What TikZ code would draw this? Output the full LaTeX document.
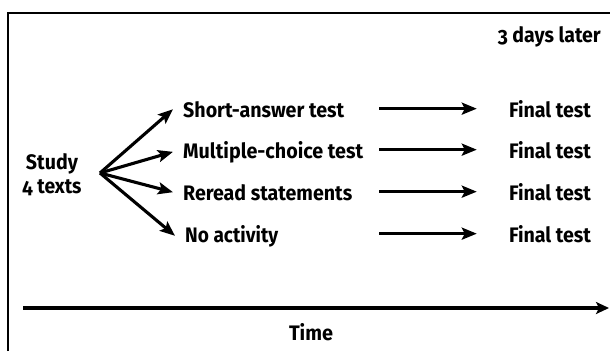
\documentclass[tikz,border=0pt]{standalone}
\usepackage{fontspec}
\setmainfont{Fira Sans}[Numbers=OldStyle]
\usetikzlibrary{arrows.meta,calc}
\newcommand{\fitw}[2]{\resizebox{#1pt}{\height}{#2}}
\begin{document}
\begin{tikzpicture}[x=1pt,y=-1pt,
  lbl/.style={font=\fontsize{21}{24}\selectfont\bfseries, inner sep=0pt},
  rowlbl/.style={lbl, anchor=base west, inner xsep=10pt, inner ysep=0pt},
  ftlbl/.style={lbl, anchor=base, inner xsep=32pt, inner ysep=0pt},
  arr/.style={line width=3.1pt, -{Stealth[length=15pt,width=12pt,inset=3pt]}},
  frame/.style={line width=1.8pt}]
\useasboundingbox (0,0) rectangle (610,351);
% frame (top and left edges)
\draw[frame] (8,351) -- (8,13) -- (610,13);
% header
\node[lbl, anchor=base east] (later) at (601,42) {\fitw{103}{3 days later}};
% study
\node[lbl, align=center, anchor=base] (study) at (52,193) {\fitw{52}{Study}\\\fitw{59}{4 texts}};
\coordinate (o) at (100,173);
% activities
\node[rowlbl] (r1) at (173,117) {\fitw{161}{Short-answer test}};
\node[rowlbl] (r2) at (173,158) {\fitw{180}{Multiple-choice test}};
\node[rowlbl] (r3) at (173,200) {\fitw{169}{Reread statements}};
\node[rowlbl] (r4) at (175,242) {\fitw{93}{No activity}};
\draw[arr] (o) -- (r1.west);
\draw[arr] (o) -- (r2.west);
\draw[arr] (o) -- (r3.west);
\draw[arr] (o) -- (r4.west);
% final tests
\node[ftlbl] (f1) at (550,117) {\fitw{82}{Final test}};
\node[ftlbl] (f2) at (550,158) {\fitw{82}{Final test}};
\node[ftlbl] (f3) at (550,200) {\fitw{82}{Final test}};
\node[ftlbl] (f4) at (550,242) {\fitw{82}{Final test}};
\coordinate (mx) at (379,0);
\coordinate (s1) at (f1.west -| mx);
\coordinate (s2) at (f2.west -| mx);
\coordinate (s3) at (f3.west -| mx);
\coordinate (s4) at (f4.west -| mx);
\draw[arr] (s1) -- (f1.west);
\draw[arr] (s2) -- (f2.west);
\draw[arr] (s3) -- (f3.west);
\draw[arr] (s4) -- (f4.west);
% time axis
\coordinate (tl) at (23,308);
\coordinate (tr) at (609,308);
\draw[line width=3.3pt, -{Stealth[length=13pt,width=12pt,inset=3pt]}] (tl) -- (tr);
\node[lbl, anchor=base] (time) at (311,340) {\fitw{44}{Time}};
\end{tikzpicture}
\end{document}
